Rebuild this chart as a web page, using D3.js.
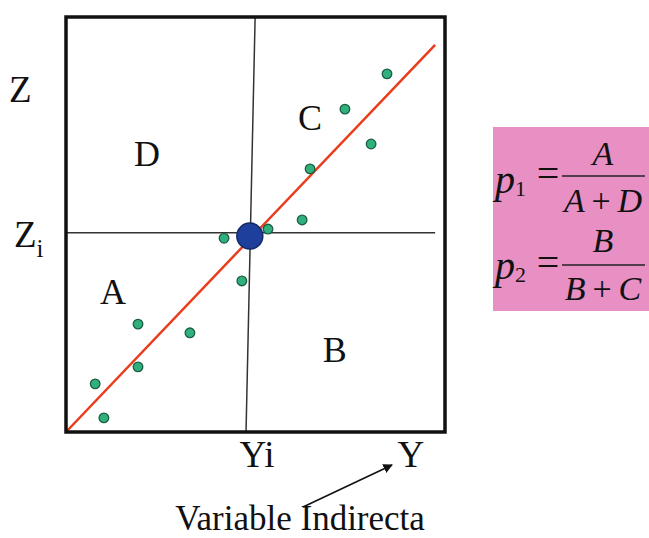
<!DOCTYPE html>
<html><head><meta charset="utf-8">
<script src="https://cdn.jsdelivr.net/npm/d3@7"></script>
<style>body{margin:0;background:#fff}svg{display:block}text{font-family:"Liberation Serif","Times New Roman",serif;fill:#111}</style>
</head><body><svg id="c" width="649" height="538"></svg>
<script>
// data (in chart units 0-100)
const pointsX = [84.7, 73.6, 80.5, 64.4, 62.3, 53.3, 41.7, 46.4, 19.0, 32.7, 19.0, 7.7, 10.0];
const pointsY = [86.3, 77.8, 69.4, 63.4, 51.1, 48.9, 46.7, 36.4, 26.0, 23.9, 15.7, 11.6, 3.4];
const centerPoint = [48.5, 47.2];
const fitLineX = [0, 97.4];
const fitLineY = [0, 93.3];
const yiLineX = [49.9, 47.5];
const yiLineY = [100, 0];
const ziLineX = [0, 97.4];
const ziLineY = [48, 48];
const regionLabels = ["A", "B", "C", "D"];
const regionX = [12.4, 70.9, 64.4, 21.4];
const regionY = [30.8, 16.9, 72.8, 64.1];
const xTickLabels = ["Yi", "Y"];
const xTickValues = [50.4, 91.0];
const yTickLabels = ["Z", "Z"];
const yTickSubs = ["", "i"];
const yTickValues = [79.5, 44.6];

const svg = d3.select("#c");
const x = d3.scaleLinear().domain([0, 100]).range([66, 445]);
const y = d3.scaleLinear().domain([0, 100]).range([432, 17]);

// quadrant lines
svg.append("line").attr("x1", x(yiLineX[0])).attr("y1", y(yiLineY[0])).attr("x2", x(yiLineX[1])).attr("y2", y(yiLineY[1]))
  .attr("stroke", "#333").attr("stroke-width", 1.5);
svg.append("line").attr("x1", x(ziLineX[0])).attr("y1", y(ziLineY[0])).attr("x2", x(ziLineX[1])).attr("y2", y(ziLineY[1]))
  .attr("stroke", "#333").attr("stroke-width", 1.5);

// fit line
svg.append("line").attr("x1", x(fitLineX[0])).attr("y1", y(fitLineY[0])).attr("x2", x(fitLineX[1])).attr("y2", y(fitLineY[1]))
  .attr("stroke", "#ea3c1c").attr("stroke-width", 2.5);

// points
svg.selectAll("circle.pt").data(pointsX.map((v, i) => [v, pointsY[i]])).join("circle")
  .attr("class", "pt").attr("cx", d => x(d[0])).attr("cy", d => y(d[1])).attr("r", 4.8)
  .attr("fill", "#2fb07c").attr("stroke", "#1c5e44").attr("stroke-width", 1.3);

svg.append("circle").attr("cx", x(centerPoint[0])).attr("cy", y(centerPoint[1])).attr("r", 13)
  .attr("fill", "#1f3f9c").attr("stroke", "#132a66").attr("stroke-width", 1.5);

// frame
svg.append("rect").attr("x", x(0)).attr("y", y(100)).attr("width", x(100) - x(0)).attr("height", y(0) - y(100))
  .attr("fill", "none").attr("stroke", "#111").attr("stroke-width", 3.5);

// region labels
svg.selectAll("text.reg").data(regionLabels).join("text").attr("class", "reg")
  .attr("x", (d, i) => x(regionX[i])).attr("y", (d, i) => y(regionY[i]))
  .attr("text-anchor", "middle").attr("font-size", 36).text(d => d);

// x tick labels
svg.selectAll("text.xt").data(xTickLabels).join("text").attr("class", "xt")
  .attr("x", (d, i) => x(xTickValues[i])).attr("y", 467)
  .attr("text-anchor", "middle").attr("font-size", 37).text(d => d);

// y tick labels
const yt = svg.selectAll("text.yt").data(yTickLabels).join("text").attr("class", "yt")
  .attr("x", (d, i) => i === 0 ? 9 : 14).attr("y", (d, i) => y(yTickValues[i]))
  .attr("font-size", 37);
yt.append("tspan").text(d => d);
yt.append("tspan").attr("font-size", 25).attr("dy", 10).text((d, i) => yTickSubs[i]);

// axis title and arrow
svg.append("defs").append("marker").attr("id", "ah").attr("viewBox", "0 0 10 10").attr("refX", 9).attr("refY", 5)
  .attr("markerWidth", 6).attr("markerHeight", 6).attr("orient", "auto")
  .append("path").attr("d", "M0,0 L10,5 L0,10 z").attr("fill", "#111");
svg.append("line").attr("x1", 303).attr("y1", 507).attr("x2", 392).attr("y2", 465)
  .attr("stroke", "#111").attr("stroke-width", 1.6).attr("marker-end", "url(#ah)");
svg.append("text").attr("x", 300).attr("y", 530).attr("text-anchor", "middle").attr("font-size", 35).text("Variable Indirecta");

// formula box
svg.append("rect").attr("x", 493).attr("y", 127).attr("width", 156).attr("height", 184).attr("fill", "#e88fc4");
function frac(px, sub, num, den, baseY, barY, numY, denY) {
  const g = svg.append("g");
  const t = g.append("text").attr("x", 495).attr("y", baseY).attr("font-size", 40).attr("font-style", "italic");
  t.append("tspan").text(px);
  t.append("tspan").attr("font-style", "normal").attr("font-size", 22).attr("dy", 3).text(sub);
  g.append("text").attr("x", 548).attr("y", barY + 11).attr("text-anchor", "middle").attr("font-size", 40).text("=");
  g.append("line").attr("x1", 562).attr("x2", 645).attr("y1", barY).attr("y2", barY).attr("stroke", "#222").attr("stroke-width", 1.4);
  g.append("text").attr("x", 603).attr("y", numY).attr("text-anchor", "middle").attr("font-size", 34).attr("font-style", "italic").text(num);
  const dt = g.append("text").attr("x", 603).attr("y", denY).attr("text-anchor", "middle").attr("font-size", 34).attr("font-style", "italic");
  dt.append("tspan").text(den[0]);
  dt.append("tspan").attr("font-style", "normal").text("\u2009+\u2009");
  dt.append("tspan").text(den[1]);
}
frac("p", "1", "A", ["A", "D"], 193, 176, 165, 212);
frac("p", "2", "B", ["B", "C"], 279, 265, 252, 300);
</script></body></html>
